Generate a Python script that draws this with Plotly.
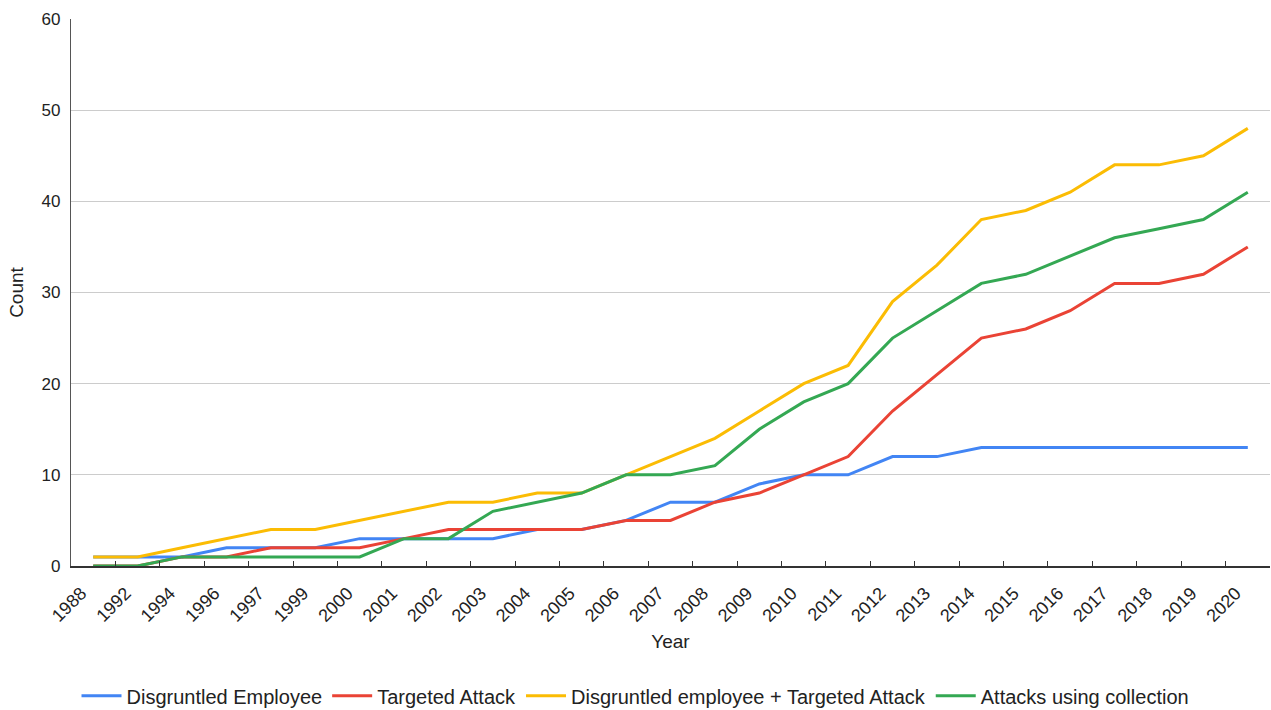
import plotly.graph_objects as go

years = ["1988", "1992", "1994", "1996", "1997", "1999", "2000", "2001", "2002", "2003",
         "2004", "2005", "2006", "2007", "2008", "2009", "2010", "2011", "2012", "2013",
         "2014", "2015", "2016", "2017", "2018", "2019", "2020"]

disgruntled_employee = [1, 1, 1, 2, 2, 2, 3, 3, 3, 3, 4, 4, 5, 7, 7, 9, 10, 10, 12, 12,
                        13, 13, 13, 13, 13, 13, 13]
targeted_attack = [0, 0, 1, 1, 2, 2, 2, 3, 4, 4, 4, 4, 5, 5, 7, 8, 10, 12, 17, 21,
                   25, 26, 28, 31, 31, 32, 35]
disgruntled_plus_targeted = [1, 1, 2, 3, 4, 4, 5, 6, 7, 7, 8, 8, 10, 12, 14, 17, 20, 22, 29, 33,
                             38, 39, 41, 44, 44, 45, 48]
attacks_using_collection = [0, 0, 1, 1, 1, 1, 1, 3, 3, 6, 7, 8, 10, 10, 11, 15, 18, 20, 25, 28,
                            31, 32, 34, 36, 37, 38, 41]

series = [
    ("Disgruntled Employee", disgruntled_employee, "#4285F4"),
    ("Targeted Attack", targeted_attack, "#EA4335"),
    ("Disgruntled employee + Targeted Attack", disgruntled_plus_targeted, "#FBBC04"),
    ("Attacks using collection", attacks_using_collection, "#34A853"),
]

FONT = "Liberation Sans, Arial, sans-serif"

fig = go.Figure()
for name, vals, color in series:
    fig.add_trace(go.Scatter(x=years, y=vals, mode="lines", name=name,
                             line=dict(color=color, width=3)))

fig.update_layout(
    width=1271, height=710,
    margin=dict(l=71, r=1, t=19, b=144),
    plot_bgcolor="white", paper_bgcolor="white",
    font=dict(family=FONT, size=17, color="#222222"),
    showlegend=True,
    legend=dict(orientation="h", xref="container", x=0.5, xanchor="center",
                yref="container", y=0.02, yanchor="middle",
                font=dict(size=20, color="#222222"), itemwidth=40),
    xaxis=dict(
        type="category", range=[-0.5, 26.5],
        tickangle=-45, tickfont=dict(size=18, color="#222222"),
        ticks="inside", ticklen=5, tickcolor="#333333", tickson="boundaries",
        ticklabelstandoff=8, ticklabelshift=-12,
        showline=True, linecolor="#333333", linewidth=1.5,
        showgrid=False, zeroline=False,
        title=dict(text="Year", font=dict(size=19, color="#222222"), standoff=10),
    ),
    yaxis=dict(
        range=[0, 60], dtick=10,
        tickfont=dict(size=17, color="#222222"),
        showline=True, linecolor="#555555", linewidth=1.2,
        showgrid=True, gridcolor="#CCCCCC", gridwidth=1,
        zeroline=False, ticks="", ticklabelstandoff=6,
        title=dict(text="Count", font=dict(size=19, color="#222222"), standoff=12),
    ),
)

fig.write_html("out.html")
